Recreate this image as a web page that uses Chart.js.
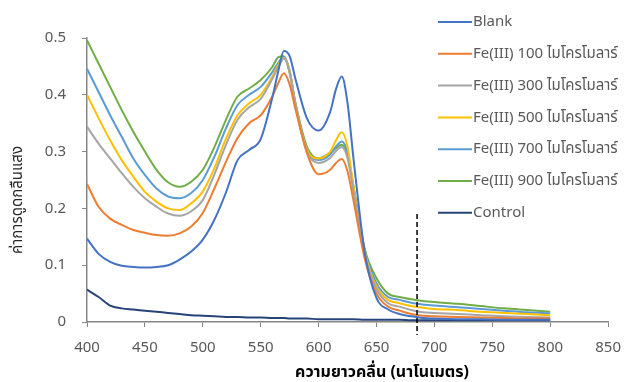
<!DOCTYPE html>
<html>
<head>
<meta charset="utf-8">
<script src="https://cdn.jsdelivr.net/npm/chart.js@4"></script>
<style>
  body { margin: 0; background: #fff; }
  #wrap { width: 633px; height: 382px; }
</style>
</head>
<body>
<div id="wrap"><canvas id="chart" width="633" height="382"></canvas></div>
<script>
// wavelengths (nm)
var wavelengths = [400,410,420,430,440,450,460,470,480,490,500,510,520,530,540,550,560,565,570,575,580,590,600,610,615,620,625,630,640,650,660,670,680,690,700,720,740,760,780,800];

var blank = [0.147,0.120,0.106,0.099,0.097,0.096,0.097,0.100,0.110,0.124,0.145,0.180,0.228,0.285,0.303,0.322,0.395,0.440,0.477,0.468,0.428,0.358,0.337,0.370,0.410,0.432,0.385,0.290,0.120,0.042,0.022,0.014,0.010,0.007,0.006,0.005,0.005,0.004,0.004,0.004];
var fe100 = [0.243,0.203,0.182,0.171,0.162,0.157,0.153,0.152,0.156,0.168,0.192,0.235,0.282,0.324,0.350,0.364,0.397,0.420,0.438,0.418,0.375,0.297,0.260,0.268,0.280,0.287,0.265,0.215,0.110,0.050,0.027,0.020,0.014,0.011,0.010,0.009,0.008,0.007,0.006,0.006];
var fe300 = [0.344,0.314,0.288,0.262,0.238,0.218,0.203,0.191,0.187,0.195,0.215,0.260,0.312,0.356,0.378,0.393,0.428,0.448,0.464,0.440,0.382,0.300,0.280,0.289,0.301,0.308,0.288,0.232,0.118,0.058,0.033,0.027,0.021,0.017,0.016,0.014,0.012,0.010,0.009,0.008];
var fe500 = [0.400,0.359,0.320,0.285,0.256,0.229,0.212,0.200,0.197,0.209,0.230,0.271,0.323,0.364,0.385,0.400,0.432,0.452,0.465,0.442,0.383,0.303,0.288,0.300,0.320,0.334,0.308,0.240,0.122,0.062,0.039,0.033,0.028,0.025,0.023,0.021,0.018,0.016,0.014,0.012];
var fe700 = [0.446,0.405,0.364,0.326,0.288,0.259,0.235,0.221,0.218,0.227,0.250,0.291,0.341,0.382,0.400,0.414,0.440,0.456,0.467,0.443,0.385,0.303,0.285,0.295,0.309,0.318,0.298,0.238,0.124,0.068,0.044,0.039,0.034,0.031,0.029,0.026,0.023,0.020,0.017,0.015];
var fe900 = [0.496,0.455,0.414,0.373,0.335,0.300,0.268,0.246,0.238,0.247,0.268,0.308,0.356,0.397,0.411,0.426,0.449,0.466,0.468,0.438,0.385,0.308,0.288,0.298,0.306,0.312,0.293,0.240,0.127,0.077,0.050,0.044,0.040,0.037,0.035,0.032,0.028,0.024,0.021,0.018];
var control = [0.057,0.044,0.029,0.024,0.022,0.020,0.018,0.016,0.014,0.012,0.011,0.010,0.009,0.009,0.008,0.008,0.007,0.007,0.007,0.006,0.006,0.006,0.005,0.005,0.005,0.005,0.005,0.005,0.004,0.004,0.004,0.004,0.003,0.003,0.003,0.003,0.003,0.003,0.003,0.003];

var seriesNames = ['Blank','Fe(III) 100 ไมโครโมลาร์','Fe(III) 300 ไมโครโมลาร์','Fe(III) 500 ไมโครโมลาร์','Fe(III) 700 ไมโครโมลาร์','Fe(III) 900 ไมโครโมลาร์','Control'];
var seriesColors = ['#4472C4','#ED7D31','#A5A5A5','#FFC000','#5B9BD5','#70AD47','#264478'];
var seriesValues = [blank, fe100, fe300, fe500, fe700, fe900, control];

var markerWavelength = 685;
var markerTop = 0.19;

var xTitle = 'ความยาวคลื่น (นาโนเมตร)';
var yTitle = 'ค่าการดูดกลืนแสง';

var FONT = "'Noto Sans', 'Noto Sans Thai', 'Open Sans', sans-serif";

var datasets = seriesValues.map(function (vals, i) {
    return {
        label: seriesNames[i],
        data: wavelengths.map(function (w, j) { return {x: w, y: vals[j]}; }),
        borderColor: seriesColors[i],
        backgroundColor: seriesColors[i],
        borderWidth: 2,
        pointRadius: 0,
        cubicInterpolationMode: 'monotone',
        fill: false
    };
});

// legend, titles and the dashed marker
var overlay = {
    id: 'overlay',
    afterDraw: function (chart) {
        var ctx = chart.ctx;
        var xs = chart.scales.x, ys = chart.scales.y;

        // dashed marker line
        var mx = xs.getPixelForValue(markerWavelength);
        ctx.save();
        ctx.strokeStyle = '#000';
        ctx.lineWidth = 1.5;
        ctx.setLineDash([5, 3]);
        ctx.beginPath();
        ctx.moveTo(mx, ys.getPixelForValue(markerTop));
        ctx.lineTo(mx, ys.getPixelForValue(0) + 13);
        ctx.stroke();
        ctx.restore();

        // legend
        ctx.save();
        ctx.font = '15px ' + FONT;
        ctx.textBaseline = 'middle';
        ctx.textAlign = 'left';
        for (var i = 0; i < seriesNames.length; i++) {
            var ly = 22 + i * 31.8;
            ctx.strokeStyle = seriesColors[i];
            ctx.lineWidth = 2;
            ctx.beginPath();
            ctx.moveTo(438, ly);
            ctx.lineTo(472, ly);
            ctx.stroke();
            ctx.fillStyle = '#595959';
            ctx.fillText(seriesNames[i], 473, ly);
        }
        ctx.restore();

        // axis titles
        ctx.save();
        ctx.fillStyle = '#000';
        ctx.font = 'bold 16px ' + FONT;
        ctx.textAlign = 'center';
        ctx.textBaseline = 'middle';
        ctx.fillText(xTitle, 382, 372);
        ctx.translate(18, 200);
        ctx.rotate(-Math.PI / 2);
        ctx.font = '15px ' + FONT;
        ctx.fillStyle = '#262626';
        ctx.fillText(yTitle, 0, 0);
        ctx.restore();
    }
};

new Chart(document.getElementById('chart'), {
    type: 'line',
    data: { datasets: datasets },
    options: {
        responsive: false,
        animation: false,
        layout: { padding: { left: 0, right: 18, top: 38, bottom: 0 } },
        plugins: { legend: { display: false }, tooltip: { enabled: false } },
        scales: {
            x: {
                type: 'linear',
                min: 400,
                max: 850,
                afterFit: function (s) { s.height = 60; },
                ticks: { stepSize: 50, color: '#595959', font: { size: 15, family: FONT }, padding: 12 },
                grid: { drawOnChartArea: false, drawTicks: true, tickLength: 5, color: '#868686' },
                border: { color: '#868686', width: 1.5 }
            },
            y: {
                min: 0,
                max: 0.5,
                afterFit: function (s) { s.width = 87; },
                ticks: { stepSize: 0.1, color: '#595959', font: { size: 15, family: FONT }, padding: 16 },
                grid: { drawOnChartArea: false, drawTicks: true, tickLength: 5, color: '#868686' },
                border: { color: '#868686', width: 1.5 }
            }
        }
    },
    plugins: [overlay]
});
</script>
</body>
</html>
